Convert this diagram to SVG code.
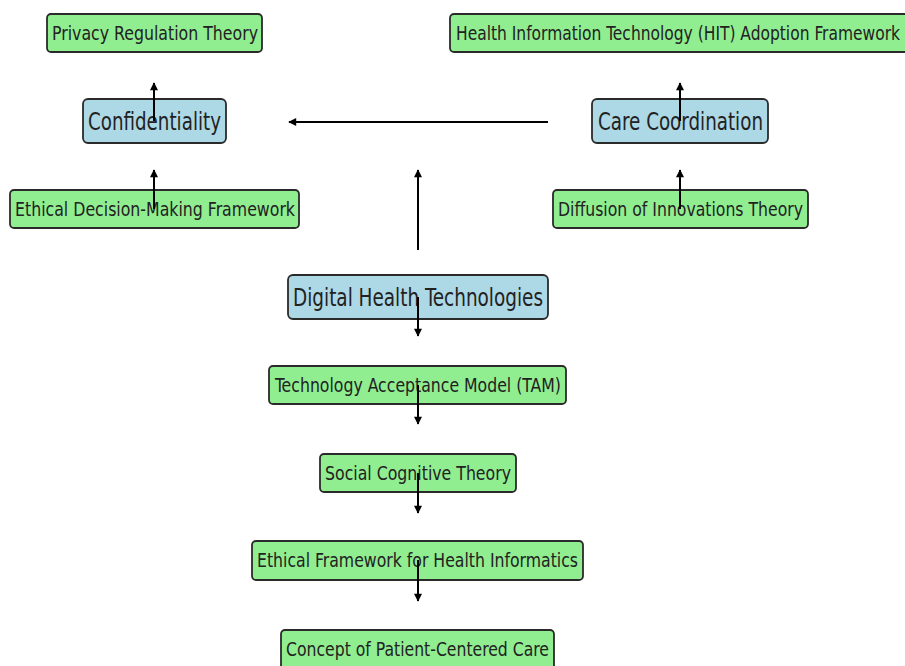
<svg xmlns="http://www.w3.org/2000/svg" width="905" height="666" viewBox="0 0 905 666">
<defs>
<style>
.g rect{fill:#90EE90;stroke:#2a2a2a;stroke-width:1.8}
.b rect{fill:#ADD8E6;stroke:#2a2a2a;stroke-width:1.8}
text{font-family:"DejaVu Sans Condensed","DejaVu Sans",sans-serif;fill:#222;text-anchor:middle}
.g text{font-size:20px}
.b text{font-size:24px}
.c line{stroke:#000;stroke-width:2;marker-end:url(#ah)}
</style>
<marker id="ah" viewBox="0 0 10 10" refX="9" refY="5" markerWidth="4.5" markerHeight="4" orient="auto" markerUnits="strokeWidth">
<path d="M0,0 L10,5 L0,10 z" fill="#000"/>
</marker>
</defs>
<rect width="905" height="666" fill="#fff"/>
<g id="privacy" class="g"><rect x="47" y="14" width="215" height="38" rx="4"/><text x="155" y="40" textLength="206" lengthAdjust="spacingAndGlyphs">Privacy Regulation Theory</text></g>
<g id="confidentiality" class="b"><rect x="83" y="99" width="143" height="44" rx="5"/><text x="154.5" y="130" textLength="133" lengthAdjust="spacingAndGlyphs">Confidentiality</text></g>
<g id="ethicaldm" class="g"><rect x="10" y="190" width="289" height="38" rx="4"/><text x="155" y="216" textLength="280" lengthAdjust="spacingAndGlyphs">Ethical Decision-Making Framework</text></g>
<g id="hit" class="g"><rect x="450" y="14" width="470" height="38" rx="4"/><text x="678" y="40" textLength="444" lengthAdjust="spacingAndGlyphs">Health Information Technology (HIT) Adoption Framework</text></g>
<g id="care" class="b"><rect x="592" y="99" width="176" height="44" rx="5"/><text x="680.5" y="130" textLength="165" lengthAdjust="spacingAndGlyphs">Care Coordination</text></g>
<g id="diffusion" class="g"><rect x="553" y="190" width="255" height="38" rx="4"/><text x="680.5" y="216" textLength="245" lengthAdjust="spacingAndGlyphs">Diffusion of Innovations Theory</text></g>
<g id="dht" class="b"><rect x="288" y="275" width="260" height="44" rx="5"/><text x="418" y="306" textLength="250" lengthAdjust="spacingAndGlyphs">Digital Health Technologies</text></g>
<g id="tam" class="g"><rect x="269" y="366" width="297" height="38" rx="4"/><text x="418" y="392" textLength="286" lengthAdjust="spacingAndGlyphs">Technology Acceptance Model (TAM)</text></g>
<g id="sct" class="g"><rect x="320" y="454" width="196" height="38" rx="4"/><text x="418" y="480" textLength="186" lengthAdjust="spacingAndGlyphs">Social Cognitive Theory</text></g>
<g id="efhi" class="g"><rect x="252" y="541" width="331" height="39" rx="4"/><text x="417.5" y="567" textLength="321" lengthAdjust="spacingAndGlyphs">Ethical Framework for Health Informatics</text></g>
<g id="pcc" class="g"><rect x="281" y="630" width="273" height="40" rx="4"/><text x="417.5" y="656" textLength="263" lengthAdjust="spacingAndGlyphs">Concept of Patient-Centered Care</text></g>
<g id="connectors" class="c">
<line x1="154" y1="121" x2="154" y2="83"/>
<line x1="154" y1="209" x2="154" y2="170"/>
<line x1="548" y1="122" x2="289" y2="122"/>
<line x1="418" y1="250" x2="418" y2="170"/>
<line x1="680" y1="121" x2="680" y2="83"/>
<line x1="680" y1="209" x2="680" y2="170"/>
<line x1="418" y1="297" x2="418" y2="336"/>
<line x1="418" y1="385" x2="418" y2="424"/>
<line x1="418" y1="473" x2="418" y2="513"/>
<line x1="418" y1="560" x2="418" y2="601"/>
</g>
</svg>
